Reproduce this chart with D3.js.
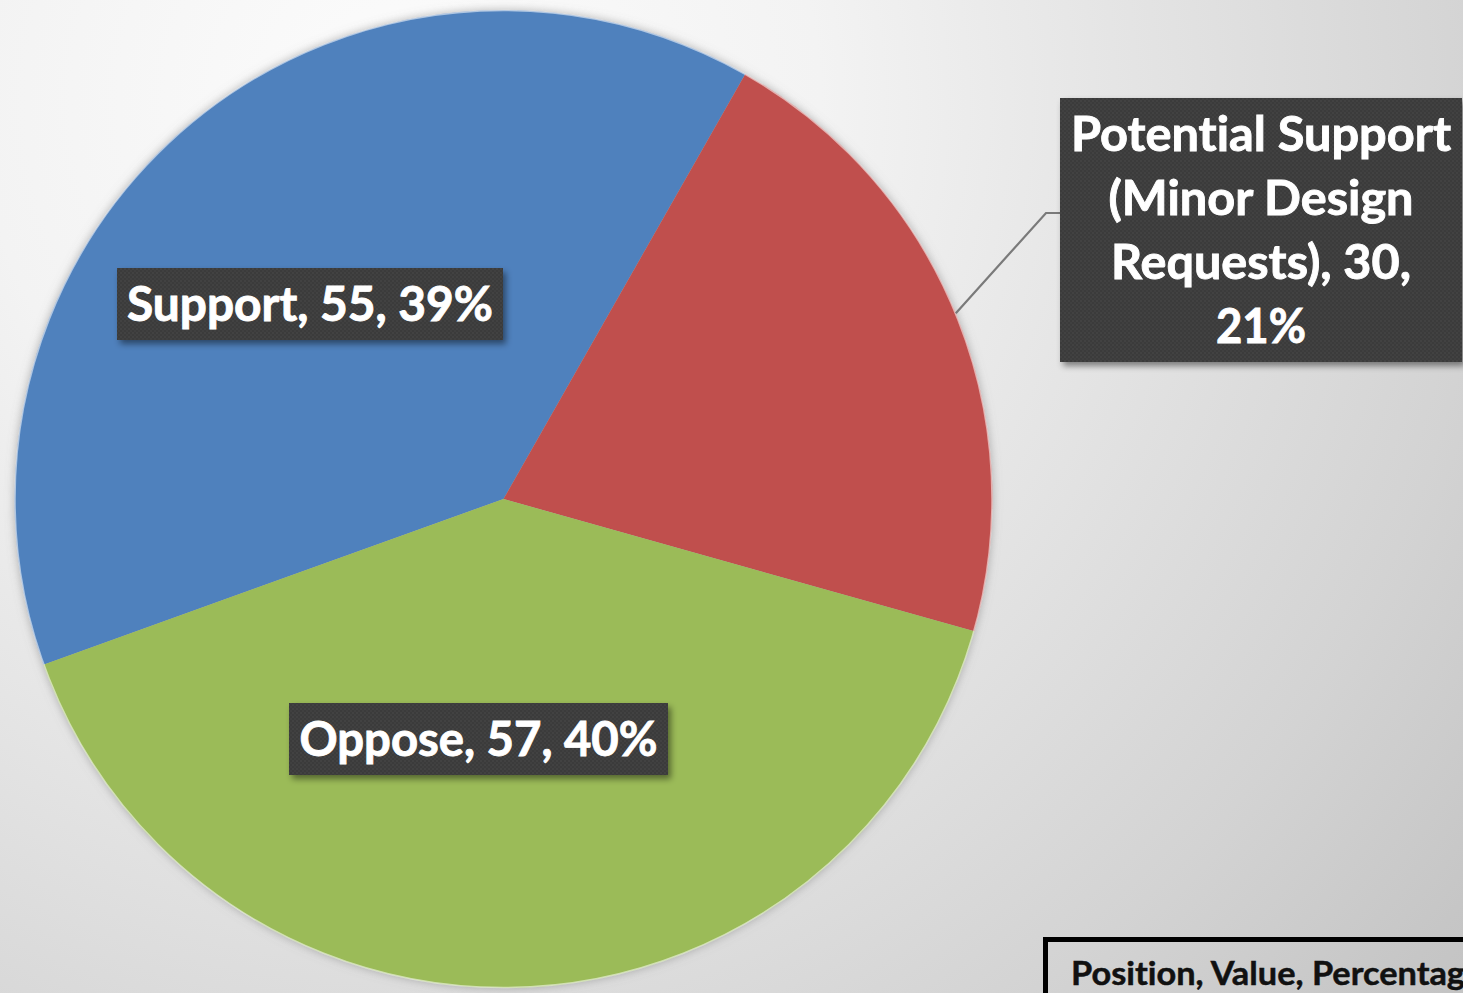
<!DOCTYPE html>
<html>
<head>
<meta charset="utf-8">
<script src="https://cdn.jsdelivr.net/npm/d3@7"></script>
<style>
  html, body { margin: 0; padding: 0; overflow: hidden; background: #d8d8d8; }
  svg { display: block; }
  text { font-variant-ligatures: none; font-feature-settings: "liga" 0, "clig" 0; }
</style>
</head>
<body>
<svg id="chart" width="1463" height="993"></svg>
<script>
// Survey positions and their counts
const categories = ["Support", "Potential Support (Minor Design Requests)", "Oppose"];
const values = [55, 30, 57];
const colors = ["#4F81BD", "#C0504D", "#9BBB59"];
const legendText = "Position, Value, Percentage";

const W = 1463, H = 993;
const cx = 503.5, cy = 499, R = 489;
const startDeg = -109.8;

const svg = d3.select("#chart");
const defs = svg.append("defs");

// soft page background
const bg = defs.append("radialGradient").attr("id", "bg")
  .attr("gradientUnits", "userSpaceOnUse")
  .attr("cx", 400).attr("cy", 100).attr("r", 1400);
[[0, "#fcfcfc"], [0.3, "#f3f3f3"], [0.54, "#e3e3e3"], [0.78, "#d3d3d3"], [0.95, "#c6c6c6"], [1, "#c3c3c3"]]
  .forEach(([o, c]) => bg.append("stop").attr("offset", o).attr("stop-color", c));

// shadow around the pie
const pieShadow = defs.append("filter").attr("id", "pieShadow")
  .attr("x", "-10%").attr("y", "-10%").attr("width", "120%").attr("height", "120%");
pieShadow.append("feDropShadow").attr("dx", 0).attr("dy", 0)
  .attr("stdDeviation", 5).attr("flood-color", "#7a7a7a").attr("flood-opacity", 0.55);

// shadow under label boxes
const boxShadow = defs.append("filter").attr("id", "boxShadow")
  .attr("x", "-10%").attr("y", "-10%").attr("width", "125%").attr("height", "130%");
boxShadow.append("feDropShadow").attr("dx", 3).attr("dy", 4)
  .attr("stdDeviation", 3).attr("flood-color", "#000").attr("flood-opacity", 0.45);

// dotted texture for label boxes
const dots = defs.append("pattern").attr("id", "dots")
  .attr("patternUnits", "userSpaceOnUse").attr("width", 4).attr("height", 4);
dots.append("rect").attr("width", 4).attr("height", 4).attr("fill", "#3a3a3a");
dots.append("circle").attr("cx", 1).attr("cy", 1).attr("r", 0.8).attr("fill", "#4e4e4e");
dots.append("circle").attr("cx", 3).attr("cy", 3).attr("r", 0.8).attr("fill", "#454545");

svg.append("rect").attr("width", W).attr("height", H).attr("fill", "url(#bg)");

const total = d3.sum(values);
const data = categories.map((c, i) => ({ cat: c, value: values[i], color: colors[i] }));

const pie = d3.pie().value(d => d.value).sort(null)
  .startAngle(startDeg * Math.PI / 180)
  .endAngle(startDeg * Math.PI / 180 + 2 * Math.PI);
const arcs = pie(data);
const arc = d3.arc().innerRadius(0).outerRadius(R);

const g = svg.append("g").attr("transform", `translate(${cx},${cy})`);
const slices = g.append("g").attr("filter", "url(#pieShadow)");
slices.selectAll("path").data(arcs).join("path")
  .attr("d", arc)
  .attr("fill", d => d.data.color);
// light rim on the pie edge
g.append("circle").attr("r", R - 0.5).attr("fill", "none")
  .attr("stroke", "rgba(255,255,255,0.55)").attr("stroke-width", 1.5);

const pct = d => Math.round(d.value / total * 100) + "%";

// label placement (box centre, width, height, text line widths)
const layout = {
  "Support": { x: 310, y: 304, w: 386, h: 72, lines: [["Support, 55, 39%", 366]] },
  "Oppose": { x: 478.5, y: 739, w: 379, h: 72, lines: [["Oppose, 57, 40%", 358]] },
  "Potential Support (Minor Design Requests)": {
    x: 1261, y: 230, w: 402, h: 264,
    lines: [["Potential Support", 380], ["(Minor Design", 305], ["Requests), 30,", 300], ["21%", 90]]
  }
};

// leader from the outside label to the slice edge
const pot = arcs[1];
const midA = (pot.startAngle + pot.endAngle) / 2;
const edge = [Math.sin(midA) * R, -Math.cos(midA) * R];
const elbowY = 213 - cy;
const boxLeft = layout[categories[1]].x - layout[categories[1]].w / 2 - cx;
g.append("polyline")
  .attr("points", [edge, [boxLeft - 14, elbowY], [boxLeft, elbowY]].map(p => p.join(",")).join(" "))
  .attr("fill", "none").attr("stroke", "#7a7a7a").attr("stroke-width", 2.2);

const labels = svg.append("g");
arcs.forEach(d => {
  const L = layout[d.data.cat];
  // text content is built from the data
  const full = `${d.data.cat}, ${d.data.value}, ${pct(d.data)}`;
  const lg = labels.append("g");
  lg.append("rect")
    .attr("x", L.x - L.w / 2).attr("y", L.y - L.h / 2)
    .attr("width", L.w).attr("height", L.h)
    .attr("fill", "url(#dots)").attr("filter", "url(#boxShadow)");
  const n = L.lines.length;
  const lh = 64;
  const words = L.lines.map(l => l[0]);
  // the wrapped lines reproduce the full label
  const txt = words.join(" ") === full ? words : [full];
  txt.forEach((t, i) => {
    lg.append("text")
      .attr("x", L.x)
      .attr("y", L.y + (i - (n - 1) / 2) * lh + 17)
      .attr("text-anchor", "middle")
      .attr("font-family", "Lato, 'Open Sans', sans-serif")
      .attr("font-weight", "bold")
      .attr("font-size", 48)
      .attr("fill", "#ffffff")
      .attr("stroke", "#ffffff").attr("stroke-width", 0.9)
      .attr("textLength", L.lines[i] ? L.lines[i][1] : null)
      .attr("lengthAdjust", "spacingAndGlyphs")
      .text(t);
  });
});

// legend box in the corner
svg.append("rect")
  .attr("x", 1045.5).attr("y", 939.5).attr("width", 500).attr("height", 200)
  .attr("fill", "none").attr("stroke", "#000").attr("stroke-width", 5);
svg.append("text")
  .attr("x", 1071).attr("y", 985)
  .attr("font-family", "Lato, 'Open Sans', sans-serif")
  .attr("font-weight", "bold").attr("font-size", 33).attr("fill", "#111")
  .attr("stroke", "#111").attr("stroke-width", 0.5)
  .attr("textLength", 412).attr("lengthAdjust", "spacingAndGlyphs")
  .text(legendText);
</script>
</body>
</html>
